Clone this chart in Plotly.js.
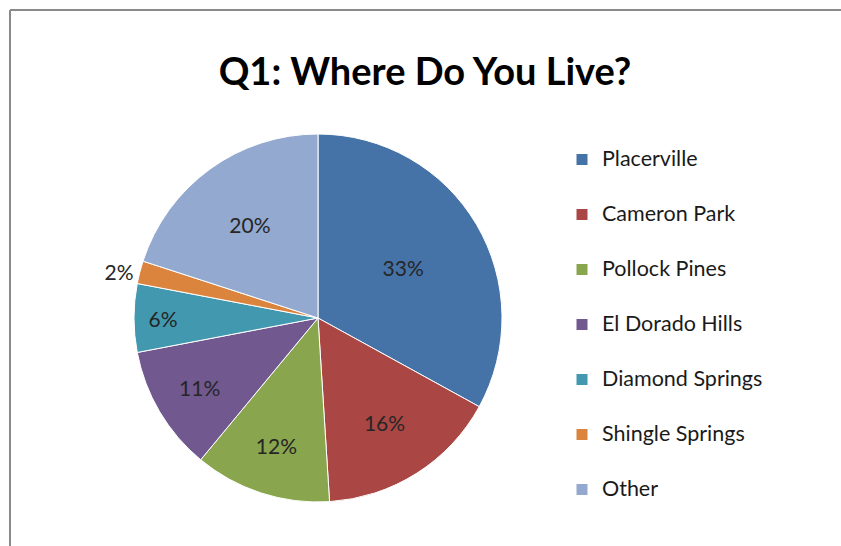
<!DOCTYPE html>
<html>
<head>
<meta charset="utf-8">
<script src="https://cdn.plot.ly/plotly-3.0.1.min.js"></script>
<style>html,body{margin:0;padding:0;background:#fff;}#chart{width:841px;height:546px;}</style>
</head>
<body>
<div id="chart"></div>
<script>
const categories = ['Placerville', 'Cameron Park', 'Pollock Pines', 'El Dorado Hills', 'Diamond Springs', 'Shingle Springs', 'Other'];
const percents = [33, 16, 12, 11, 6, 2, 20];
const colors = ['#4572A7', '#AA4643', '#89A54E', '#71588F', '#4198AF', '#DB843D', '#93A9CF'];
const textPositions = ['inside', 'inside', 'inside', 'inside', 'inside', 'outside', 'inside'];

const W = 841, H = 546;
const FONT = 'Lato, Carlito, Calibri, sans-serif';
const LEGEND_FS = 21.5;
const legendLabels = categories.map(c => `<span style="font-size:${LEGEND_FS}px;baseline-shift:9px">${c}</span>`);

const px = v => v / W;
const py = v => 1 - v / H;

const trace = {
  type: 'pie',
  labels: legendLabels,
  values: percents,
  sort: false,
  direction: 'clockwise',
  rotation: 0,
  marker: {colors: colors, line: {color: '#ffffff', width: 1}},
  texttemplate: '%{percent:.0%}',
  textposition: textPositions,
  insidetextorientation: 'horizontal',
  textfont: {family: FONT, size: 21, color: '#262626'},
  hoverinfo: 'label+percent',
  domain: {x: [px(134), px(502)], y: [py(502), py(134)]}
};

const layout = {
  width: W, height: H,
  margin: {l: 0, r: 0, t: 0, b: 0},
  paper_bgcolor: '#ffffff',
  showlegend: true,
  title: {
    text: 'Q1: Where Do You Live?',
    font: {family: FONT, size: 38, weight: 'bold', color: '#000000'},
    x: px(425), xanchor: 'center',
    y: py(72), yanchor: 'middle', yref: 'container'
  },
  legend: {
    font: {family: FONT, size: 40, color: '#1a1a1a'},
    x: px(562), xanchor: 'left',
    y: py(127), yanchor: 'top',
    bgcolor: 'rgba(0,0,0,0)'
  },
  shapes: [
    {type: 'line', xref: 'paper', yref: 'paper', x0: px(10), x1: px(10), y0: py(10), y1: 0, line: {color: '#8a8a8a', width: 2}},
    {type: 'line', xref: 'paper', yref: 'paper', x0: px(10), x1: 1, y0: py(10), y1: py(10), line: {color: '#8a8a8a', width: 2}}
  ]
};

Plotly.newPlot('chart', [trace], layout, {displayModeBar: false, staticPlot: true});
</script>
</body>
</html>
